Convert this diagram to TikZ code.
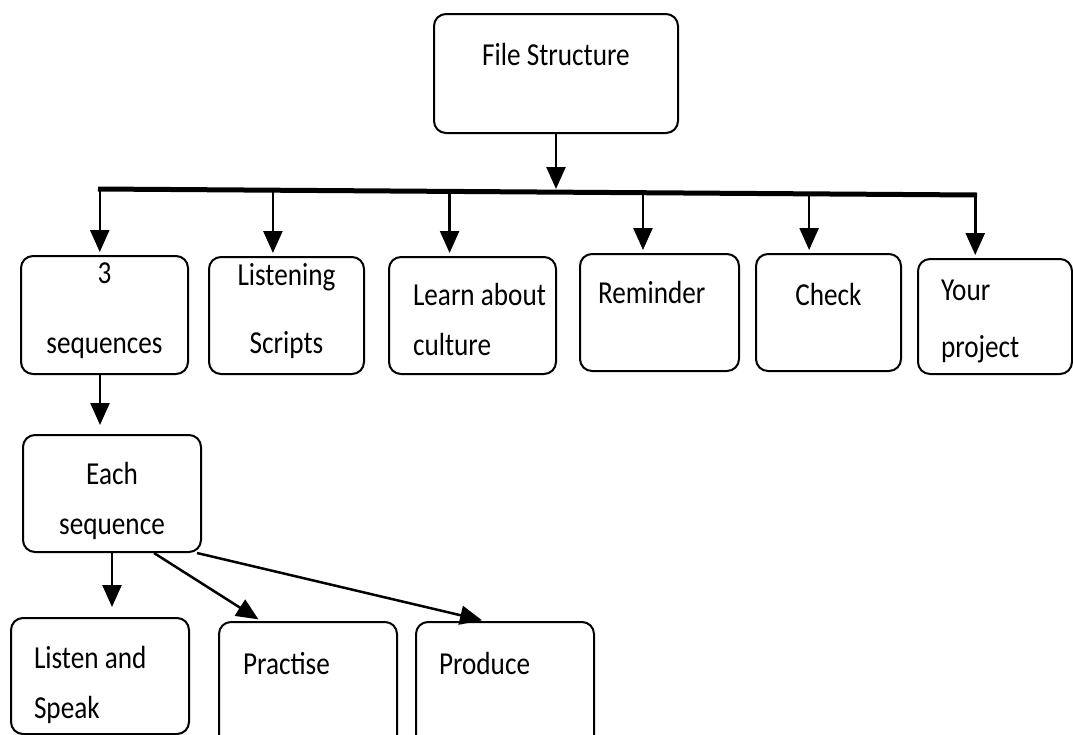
\documentclass[tikz,border=0pt]{standalone}
\usepackage{fontspec}
\setmainfont{Carlito}[FakeStretch=0.85]
\usepackage{tikz}
\usetikzlibrary{positioning, arrows.meta, calc}

% text block inside a box: width, height, top gap, content
\newcommand{\boxtxt}[4]{\parbox[c][#2][t]{#1}{\vspace*{#3}#4}}

\begin{document}
\begin{tikzpicture}[x=1pt, y=-1pt]
\tikzset{
    every node/.style={inner sep=0pt, font=\fontsize{32}{50}\selectfont},
    box/.style={draw, line width=2pt, rounded corners=12pt, anchor=north west},
    link/.style={line width=2.5pt, -{Triangle[width=19pt, length=22pt]}},
    bar/.style={line width=5pt}
}
\useasboundingbox (0,0) rectangle (1073,734);
\clip (0,0) rectangle (1073,734);

% top box
\node[box] (file) at (433,13) {\boxtxt{244pt}{119pt}{29pt}{\centering File Structure}};

% second row
\node[box] (seq) at (20,255) {\boxtxt{167pt}{118pt}{7pt}{\centering 3\\[20pt]sequences}};
\node[box] (scripts) at (208,256) {\boxtxt{155pt}{117pt}{6pt}{\centering Listening\\[18pt]Scripts}};
\node[box] (culture) at (388,256) {\boxtxt{167pt}{117pt}{26pt}{\raggedright\leftskip=24pt Learn about\\culture}};
\node[box] (reminder) at (579,253) {\boxtxt{159pt}{117pt}{27pt}{\raggedright\leftskip=18pt Reminder}};
\node[box] (check) at (755,253) {\boxtxt{145pt}{117pt}{29pt}{\centering Check}};
\node[box] (project) at (917,258) {\boxtxt{154pt}{115pt}{21pt}{\raggedright\leftskip=23pt Your\\[7pt]project}};

% third and fourth rows
\node[box] (each) at (22,434) {\boxtxt{178pt}{117pt}{27pt}{\centering Each\\sequence}};
\node[box] (listen) at (10,617) {\boxtxt{178pt}{116pt}{28pt}{\raggedright\leftskip=23pt Listen and\\Speak}};
\node[box] (practise) at (218,621) {\boxtxt{178pt}{130pt}{30pt}{\raggedright\leftskip=24pt Practise}};
\node[box] (produce) at (415,621) {\boxtxt{178pt}{130pt}{30pt}{\raggedright\leftskip=23pt Produce}};

% bar and arrows
\coordinate (barL) at (98,189);
\coordinate (barR) at (977,195);
\draw[bar] (barL) -- (barR);
\draw[link] (file.south) -- (file.south |- barL);

\foreach \nd/\fr in {seq/0.002, scripts/0.199, culture/0.4, reminder/0.62, check/0.809, project/0.998}{
    \coordinate (t\nd) at ($(barL)!\fr!(barR)$);
    \draw[link, shorten >=3pt] (t\nd) -- (t\nd |- \nd.north);
}

\draw[link, shorten >=9pt] (seq.south -| 100,0) -- (each.north -| 100,0);
\draw[link, shorten >=10pt] (each.south -| 112,0) -- (listen.north -| 112,0);
\draw[link, shorten >=3pt] (each.south -| 154,0) -- (practise.north -| 261,0);
\draw[link, shorten >=3pt] (each.south -| 197,0) -- (produce.north -| 485,0);
\end{tikzpicture}
\end{document}
